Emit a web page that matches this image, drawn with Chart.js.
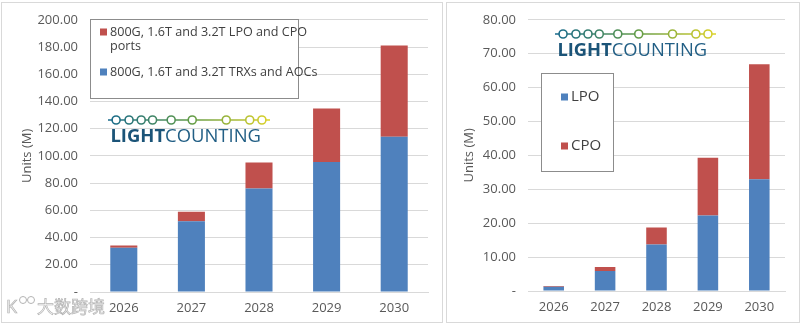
<!DOCTYPE html>
<html>
<head>
<meta charset="utf-8">
<script src="https://cdn.jsdelivr.net/npm/chart.js@4/dist/chart.umd.min.js"></script>
<style>
  html, body { margin: 0; padding: 0; background: #fff; }
  body { width: 801px; height: 326px; position: relative; overflow: hidden; }
  .panel { position: absolute; top: 2px; height: 321px; border: 1px solid #d9d9d9; box-sizing: border-box; }
  #p1 { left: 1px; width: 442px; }
  #p2 { left: 446px; width: 354px; }
  canvas { position: absolute; top: 0; }
  #c1 { left: 0; }
  #c2 { left: 446px; }
</style>
</head>
<body>
<div class="panel" id="p1"></div>
<div class="panel" id="p2"></div>
<canvas id="c1" width="443" height="326"></canvas>
<canvas id="c2" width="355" height="326"></canvas>
<script>
const years = ['2026', '2027', '2028', '2029', '2030'];
// left chart
const trxAoc = [32.5, 51.9, 76.1, 95.5, 114.0];
const lpoCpoPorts = [1.6, 7.0, 19.1, 39.3, 67.2];
// right chart
const lpo = [1.25, 5.9, 13.7, 22.3, 33.0];
const cpo = [0.2, 1.2, 5.0, 17.0, 33.9];

const leftTicks = { min: 0, max: 200, step: 20 };
const rightTicks = { min: 0, max: 80, step: 10 };

const BLUE = '#4f81bd';
const RED = '#c0504d';
const GRID = '#d9d9d9';
const FONT = 'Open Sans';

Chart.defaults.font.family = FONT;
Chart.defaults.font.size = 13;
Chart.defaults.color = '#595959';
Chart.defaults.animation = false;

function fmt(v) { return v === 0 ? '-' : v.toFixed(2); }

function drawLogo(ctx, x, y, w) {
  // chain of circles
  const grad = ctx.createLinearGradient(x, 0, x + w, 0);
  grad.addColorStop(0, '#17698c');
  grad.addColorStop(0.5, '#5f9a48');
  grad.addColorStop(1, '#dcd22a');
  ctx.save();
  ctx.strokeStyle = grad;
  ctx.lineWidth = 1.6;
  ctx.beginPath();
  ctx.moveTo(x, y);
  ctx.lineTo(x + w, y);
  ctx.stroke();
  const stops = [0.05, 0.13, 0.205, 0.275, 0.39, 0.52, 0.73, 0.875, 0.95];
  stops.forEach(s => {
    ctx.beginPath();
    ctx.arc(x + s * w, y, 4, 0, Math.PI * 2);
    ctx.fillStyle = '#fff';
    ctx.fill();
    ctx.stroke();
  });
  // wordmark
  const tw = w * 0.93;
  const tx = x + w * 0.015;
  const ty = y + 17;
  let size = 18;
  ctx.textBaseline = 'middle';
  ctx.textAlign = 'left';
  ctx.font = 'bold ' + size + 'px ' + FONT;
  let w1 = ctx.measureText('LIGHT').width;
  ctx.font = size + 'px ' + FONT;
  let w2 = ctx.measureText('COUNTING').width;
  size = size * tw / (w1 + w2);
  ctx.font = 'bold ' + size + 'px ' + FONT;
  w1 = ctx.measureText('LIGHT').width;
  ctx.fillStyle = '#1b5478';
  ctx.fillText('LIGHT', tx, ty);
  ctx.font = size + 'px ' + FONT;
  ctx.fillStyle = '#225f85';
  ctx.fillText('COUNTING', tx + w1, ty);
  ctx.restore();
}

function drawLegend(ctx, box, items, fontSize) {
  ctx.save();
  ctx.fillStyle = '#fff';
  ctx.fillRect(box.x, box.y, box.w, box.h);
  ctx.strokeStyle = '#8c8c8c';
  ctx.lineWidth = 1;
  ctx.strokeRect(box.x + 0.5, box.y + 0.5, box.w, box.h);
  ctx.font = fontSize + 'px ' + FONT;
  ctx.textBaseline = 'middle';
  ctx.textAlign = 'left';
  items.forEach(it => {
    ctx.fillStyle = it.color;
    ctx.fillRect(it.x, it.y - 3.5, 7, 7);
    ctx.fillStyle = '#404040';
    it.lines.forEach((ln, i) => ctx.fillText(ln, it.x + 10, it.y + i * it.lh));
  });
  ctx.restore();
}

function drawWatermark(ctx) {
  ctx.save();
  ctx.font = '17px "Noto Sans CJK SC"';
  ctx.textBaseline = 'middle';
  ctx.lineWidth = 0.7;
  ctx.strokeStyle = '#b3b3b3';
  ctx.fillStyle = '#f4f4f4';
  ctx.fillText('大数跨境', 37, 307);
  ctx.strokeText('大数跨境', 37, 307);
  ctx.font = '18px ' + FONT;
  ctx.fillText('K', 6, 308);
  ctx.strokeText('K', 6, 308);
  ctx.lineWidth = 1;
  [23, 31].forEach(cx => {
    ctx.beginPath();
    ctx.arc(cx, 300, 3.5, 0, Math.PI * 2);
    ctx.stroke();
  });
  ctx.restore();
}

function yAxis(t, width, titlePad) {
  return {
    stacked: true,
    min: t.min, max: t.max,
    border: { display: false },
    grid: { color: GRID, drawTicks: false },
    ticks: { stepSize: t.step, padding: 12, callback: v => fmt(v) },
    title: { display: true, text: 'Units (M)', padding: { top: titlePad, bottom: 0 } },
    afterFit: s => { s.width = width; }
  };
}

function xAxis(height) {
  return {
    stacked: true,
    border: { color: GRID },
    grid: { display: false, drawTicks: false },
    ticks: { padding: 8 },
    afterFit: s => { s.height = height; }
  };
}

new Chart(document.getElementById('c1'), {
  type: 'bar',
  data: {
    labels: years,
    datasets: [
      { label: '800G, 1.6T and 3.2T TRXs and AOCs', data: trxAoc, backgroundColor: BLUE },
      { label: '800G, 1.6T and 3.2T LPO and CPO ports', data: lpoCpoPorts, backgroundColor: RED }
    ]
  },
  options: {
    responsive: false,
    layout: { padding: { top: 16, right: 15, bottom: 0, left: 0 } },
    barPercentage: 0.8,
    categoryPercentage: 0.5,
    plugins: { legend: { display: false }, tooltip: { enabled: false } },
    scales: { x: xAxis(34), y: yAxis(leftTicks, 90, 19) }
  },
  plugins: [{
    id: 'extras1',
    afterDraw(chart) {
      const ctx = chart.ctx;
      const ds = chart.data.datasets;
      drawLegend(ctx, { x: 90, y: 19, w: 208, h: 79 }, [
        { color: ds[1].backgroundColor, x: 100, y: 32, lh: 14.5, lines: ['800G, 1.6T and 3.2T LPO and CPO', 'ports'] },
        { color: ds[0].backgroundColor, x: 100, y: 72, lh: 14.5, lines: [ds[0].label] }
      ], 12.6);
      drawLogo(ctx, 108, 120, 162);
      drawWatermark(ctx);
    }
  }]
});

new Chart(document.getElementById('c2'), {
  type: 'bar',
  data: {
    labels: years,
    datasets: [
      { label: 'LPO', data: lpo, backgroundColor: BLUE },
      { label: 'CPO', data: cpo, backgroundColor: RED }
    ]
  },
  options: {
    responsive: false,
    layout: { padding: { top: 16, right: 16, bottom: 0, left: 0 } },
    barPercentage: 0.8,
    categoryPercentage: 0.5,
    plugins: { legend: { display: false }, tooltip: { enabled: false } },
    scales: { x: xAxis(35), y: yAxis(rightTicks, 82, 15) }
  },
  plugins: [{
    id: 'extras2',
    afterDraw(chart) {
      const ctx = chart.ctx;
      const ds = chart.data.datasets;
      drawLegend(ctx, { x: 95, y: 73, w: 72, h: 98 }, [
        { color: ds[0].backgroundColor, x: 115, y: 97, lh: 0, lines: [ds[0].label] },
        { color: ds[1].backgroundColor, x: 115, y: 146, lh: 0, lines: [ds[1].label] }
      ], 15);
      drawLogo(ctx, 109, 34, 161);
    }
  }]
});
</script>
</body>
</html>
